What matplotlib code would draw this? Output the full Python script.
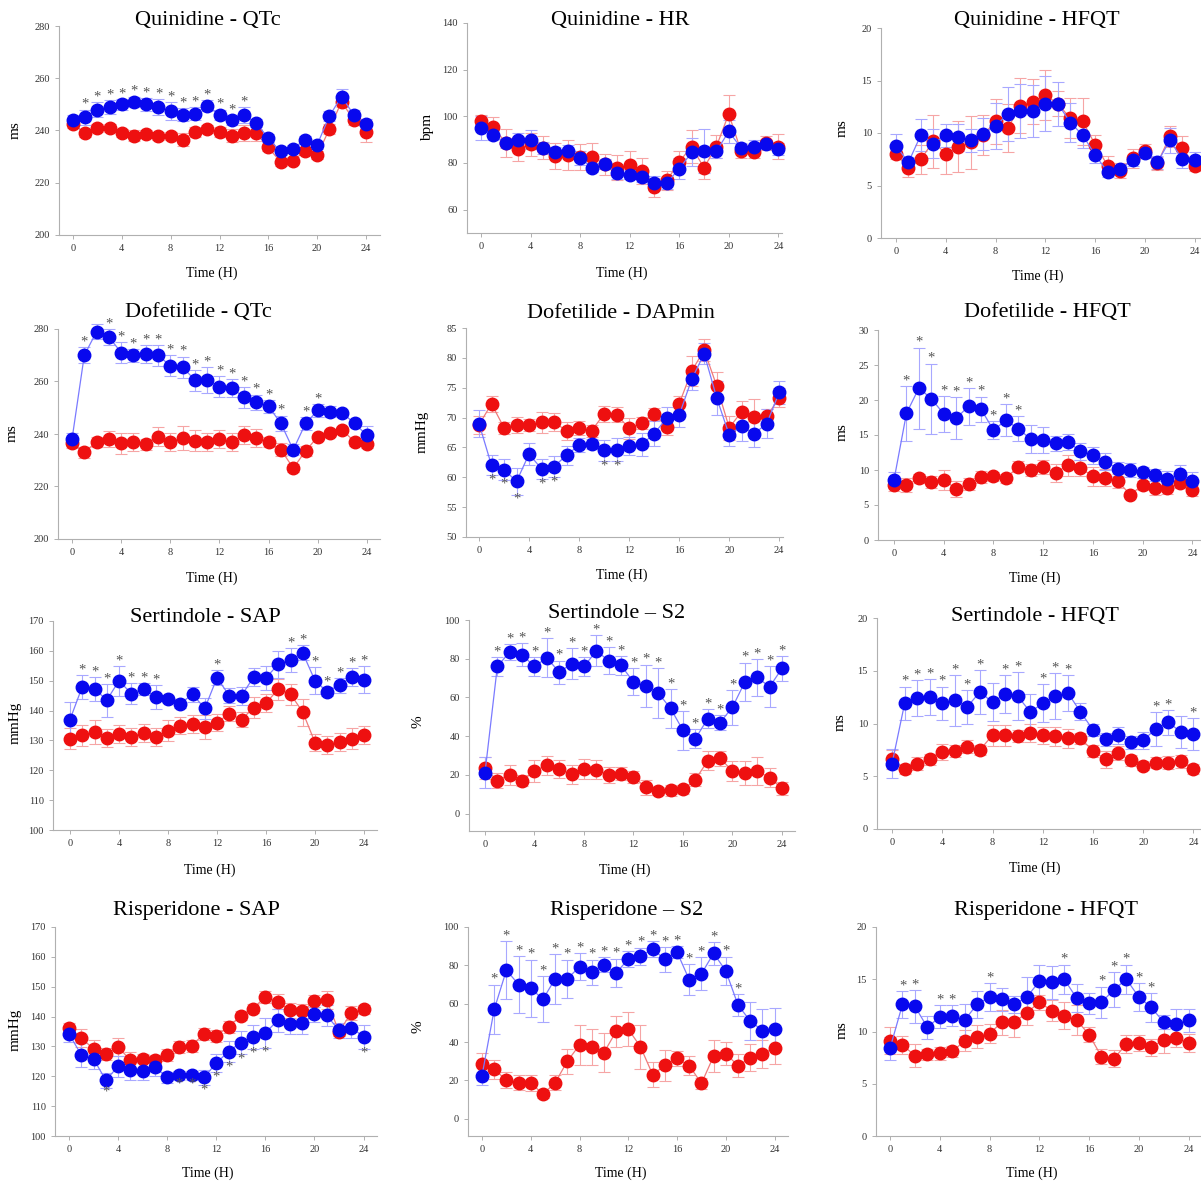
import matplotlib
matplotlib.use("Agg")
import matplotlib.pyplot as plt
import numpy as np

W, H = 1201, 1182
hours = np.arange(25)

# Quinidine - QTc
quin_qtc_drug = [244, 245, 248, 249, 250, 251, 250, 249, 247.5, 246, 246.5, 249.5, 246, 244, 246, 243, 237, 232, 233, 236.5, 234.5, 245.5, 253, 246, 242.5]
quin_qtc_drug_err = [2, 3, 3, 2.5, 2, 2, 2.5, 3, 3.5, 2.5, 2.5, 2, 2, 2, 3, 1.5, 1.5, 1.5, 1.5, 1.5, 1.5, 2, 3, 2, 2]
quin_qtc_veh = [242.5, 239, 241, 241, 239, 238, 238.5, 238, 238, 236.5, 239.5, 240.5, 239.5, 238, 239, 239, 233.5, 228, 228.5, 232, 230.5, 240.5, 251, 244, 239.5]
quin_qtc_veh_err = [1.5, 1.5, 1.5, 1.5, 1.5, 2, 1.5, 1.5, 1.5, 2.5, 2, 1.5, 2, 2.5, 3, 3, 1.5, 1.5, 1.5, 1.5, 1.5, 2, 2, 2, 4]
quin_qtc_sig = [1, 2, 3, 4, 5, 6, 7, 8, 9, 10, 11, 12, 13, 14]

# Quinidine - HR
quin_hr_drug = [95, 92, 88.5, 90, 90, 86.5, 84.5, 85, 82, 78, 79.5, 75.5, 75, 74, 71.5, 71.5, 77.5, 84.5, 85, 85, 93.5, 86.5, 87, 88, 86]
quin_hr_drug_err = [5, 2, 2, 3, 4, 2.5, 2.5, 2.5, 3, 2, 2, 2.5, 2, 2, 3, 2.5, 4.5, 6, 9.5, 3, 5, 2, 3, 2, 2.5]
quin_hr_veh = [98, 95.5, 88.5, 86, 88, 86.5, 83, 83.5, 82.5, 82.5, 79.5, 78, 79, 76.5, 69.5, 72.5, 80.5, 87, 78, 87, 101, 85, 84.5, 88.5, 87]
quin_hr_veh_err = [2.5, 4, 6, 5, 5, 5, 5.5, 6.5, 5.5, 6, 4.5, 5.5, 6, 5.5, 4, 4, 4.5, 7, 5, 5, 8, 3, 2.5, 3, 5.5]
quin_hr_sig = []

# Quinidine - HFQT
quin_hfqt_drug = [8.8, 7.2, 9.8, 9.0, 9.8, 9.6, 9.3, 9.9, 10.7, 11.8, 12.1, 12.1, 12.8, 12.8, 11.0, 9.8, 7.9, 6.3, 6.6, 7.4, 8.1, 7.2, 9.3, 7.5, 7.4]
quin_hfqt_drug_err = [1.1, 0.5, 1.5, 1.4, 1.1, 1.3, 1.1, 1.5, 2.2, 2.6, 2.6, 2.5, 2.6, 2.1, 1.9, 1.2, 0.8, 0.5, 0.4, 0.5, 0.5, 0.6, 1.2, 0.8, 0.8]
quin_hfqt_veh = [8.0, 6.7, 7.5, 9.2, 8.0, 8.7, 9.1, 9.8, 11.1, 10.5, 12.6, 13.0, 13.6, 12.8, 11.4, 11.1, 8.9, 6.9, 6.4, 7.6, 8.3, 7.1, 9.7, 8.6, 6.9]
quin_hfqt_veh_err = [0.5, 0.9, 1.4, 2.5, 1.9, 2.4, 2.5, 1.9, 2.1, 2.3, 2.6, 2.1, 2.4, 1.2, 1.9, 2.2, 0.9, 0.9, 0.7, 0.9, 0.7, 0.6, 1.0, 1.1, 0.5]
quin_hfqt_sig = []

# Dofetilide - QTc
dof_qtc_drug = [238, 270, 279, 277, 271, 270, 270.5, 270, 266, 265.5, 260.5, 260.5, 258, 257.5, 254, 252, 250.5, 244, 234, 244, 249, 248.5, 248, 244, 239.5]
dof_qtc_drug_err = [2.5, 3, 3, 3, 4, 2.5, 3.5, 4, 4, 4, 4, 5, 4, 3.5, 4, 3, 2.5, 3, 2, 2.5, 2.5, 2, 1, 1, 3.5]
dof_qtc_veh = [236.5, 233, 237, 238, 236.5, 237, 236, 239, 237, 238.5, 237.5, 237, 238, 237, 239.5, 238.5, 237, 234, 227, 233.5, 239, 240.5, 241.5, 237, 236]
dof_qtc_veh_err = [2, 2, 2, 3, 4, 3.5, 2, 3.5, 3.5, 4.5, 4, 3.5, 3.5, 3.5, 3.5, 3.5, 2, 2.5, 1.5, 2, 1, 1, 1, 1.5, 1.5]
dof_qtc_sig = [1, 2, 3, 4, 5, 6, 7, 8, 9, 10, 11, 12, 13, 14, 15, 16, 17, 19, 20]

# Dofetilide - DAPmin
dof_dap_drug = [69, 62, 61.3, 59.3, 63.9, 61.4, 61.8, 63.7, 65.4, 65.6, 64.5, 64.6, 65.3, 65.5, 67.3, 69.9, 70.4, 76.4, 80.7, 73.3, 67.1, 68.6, 67.3, 69, 74.2]
dof_dap_drug_err = [2.2, 1.7, 1.7, 2.2, 1.8, 1.7, 1.8, 1.6, 1.2, 0.8, 1.8, 1.9, 1.5, 2, 2.1, 1.9, 1.9, 1.7, 1.8, 2.8, 1.8, 2.6, 2.2, 2.5, 1.9]
dof_dap_veh = [68.8, 72.3, 68.3, 68.8, 68.7, 69.2, 69.2, 67.8, 68.2, 67.8, 70.6, 70.5, 68.2, 69.1, 70.6, 68.5, 72.3, 77.8, 81.3, 75.3, 68.3, 71, 70.1, 70.2, 73.3]
dof_dap_veh_err = [1.5, 1.3, 1.0, 1.3, 1.0, 1.8, 1.5, 1.5, 1.2, 1.0, 1.4, 1.2, 1.8, 1.0, 1.0, 1.5, 1.3, 2.5, 1.8, 2.3, 2.0, 1.8, 3.0, 1.2, 1.6]
dof_dap_sig = [1, 2, 3, 5, 6, 10, 11]

# Dofetilide - HFQT
dof_hfqt_drug = [8.6, 18.1, 21.7, 20.2, 18.0, 17.4, 19.1, 18.7, 15.7, 17.1, 15.9, 14.4, 14.3, 13.8, 14.0, 12.7, 12.1, 11.2, 10.2, 10.0, 9.7, 9.3, 8.7, 9.4, 8.5]
dof_hfqt_drug_err = [1.1, 3.9, 5.8, 5.0, 2.6, 3.0, 2.6, 1.8, 1.3, 2.3, 1.8, 2.0, 1.9, 1.1, 1.1, 1.2, 1.2, 1.2, 1.0, 1.0, 0.8, 0.8, 1.1, 1.3, 1.2]
dof_hfqt_veh = [7.9, 7.8, 8.8, 8.3, 8.6, 7.3, 8.0, 9.0, 9.1, 8.8, 10.5, 10.0, 10.4, 9.6, 10.7, 10.3, 9.1, 8.9, 8.4, 6.5, 7.8, 7.4, 7.4, 8.1, 7.1]
dof_hfqt_veh_err = [0.9, 1.0, 0.7, 0.9, 1.4, 1.2, 0.8, 0.8, 0.6, 0.6, 0.8, 0.9, 1.0, 1.3, 1.5, 1.2, 1.4, 1.2, 1.0, 0.4, 0.7, 1.0, 0.8, 0.7, 0.8]
dof_hfqt_sig = [1, 2, 3, 4, 5, 6, 7, 8, 9, 10]

# Sertindole - SAP
ser_sap_drug = [137, 148, 147.3, 143.5, 150, 145.7, 147.3, 144.5, 144, 142.3, 145.5, 140.7, 151, 145, 145, 151.3, 151, 155.5, 157, 159.3, 150, 146.3, 148.5, 151.3, 150.3]
ser_sap_drug_err = [6, 4, 4, 5.5, 5, 3.5, 2, 4, 1, 1.5, 2.5, 3.5, 2.5, 2.5, 3, 3, 4, 4.5, 4, 2.5, 4.5, 1.5, 2.5, 3, 4.5]
ser_sap_veh = [130.5, 131.8, 132.7, 130.7, 132.3, 131.3, 132.5, 131, 133.2, 135, 135.5, 134.5, 136, 139, 137, 141, 142.5, 147.2, 145.5, 139.5, 129.3, 128.6, 129.4, 130.6, 131.7]
ser_sap_veh_err = [3.5, 3.5, 4, 3, 3, 3, 3, 3, 3.5, 3, 3, 4, 3, 2.5, 2.5, 3.5, 3, 3.5, 3.5, 4.5, 3, 3, 3, 3.5, 3]
ser_sap_sig = [1, 2, 3, 4, 5, 6, 7, 12, 18, 19, 20, 21, 22, 23, 24]

# Sertindole - S2
ser_s2_drug = [21, 76, 83.5, 82, 76, 80.5, 73, 77.5, 76, 84, 79, 76.5, 68, 66, 62.3, 54.3, 43, 38.7, 49, 47, 55, 68, 70.3, 65.5, 75]
ser_s2_drug_err = [8, 5, 4, 6, 5, 10, 6, 8, 5, 8, 7, 5, 7, 11, 13, 10, 10, 5, 5, 4, 9, 10, 9.5, 10.5, 6.5]
ser_s2_veh = [23.5, 17, 20, 17, 22, 25, 23, 20.3, 23, 22.7, 20, 20.7, 19, 13.5, 11.5, 12, 12.5, 17.5, 27.3, 28.5, 22, 21, 22, 18.5, 13]
ser_s2_veh_err = [5.5, 4, 5, 3, 5.5, 5, 4.5, 5, 5, 5, 4, 3.5, 3, 4, 2, 3, 2.5, 3.5, 5, 4, 5, 6, 7, 5, 3.5]
ser_s2_sig = list(range(1, 25))

# Sertindole - HFQT
ser_hfqt_drug = [6.2, 11.9, 12.4, 12.5, 11.9, 12.2, 11.6, 13.0, 12.0, 12.8, 12.6, 11.1, 11.9, 12.6, 12.9, 11.1, 9.4, 8.5, 8.9, 8.2, 8.4, 9.5, 10.1, 9.2, 9.0]
ser_hfqt_drug_err = [1.4, 1.6, 1.7, 1.7, 1.6, 2.4, 1.6, 2.1, 1.8, 1.8, 2.3, 1.7, 1.8, 2.2, 1.7, 0.8, 0.6, 0.6, 0.8, 0.6, 0.8, 1.6, 1.2, 1.5, 1.5]
ser_hfqt_veh = [6.6, 5.7, 6.2, 6.6, 7.3, 7.4, 7.8, 7.5, 8.9, 8.9, 8.8, 9.1, 8.9, 8.8, 8.6, 8.6, 7.4, 6.6, 7.2, 6.5, 6.0, 6.3, 6.3, 6.4, 5.7]
ser_hfqt_veh_err = [0.9, 0.5, 0.6, 0.5, 0.8, 0.6, 0.6, 0.5, 1.0, 1.0, 0.6, 0.9, 0.8, 0.9, 0.9, 0.5, 0.6, 0.8, 0.7, 0.5, 0.4, 0.5, 0.6, 0.6, 0.5]
ser_hfqt_sig = [1, 2, 3, 4, 5, 6, 7, 9, 10, 12, 13, 14, 21, 22, 24]

# Risperidone - SAP
ris_sap_drug = [134.2, 127.2, 125.8, 118.7, 123.3, 122.2, 121.7, 123.1, 119.6, 120.3, 120.3, 119.6, 124.4, 128.3, 131.3, 133.3, 134.5, 138.7, 137.5, 137.8, 140.8, 140.4, 135.4, 136.3, 133.3]
ris_sap_drug_err = [2.7, 4, 3.5, 2.5, 3.5, 3.5, 3, 3, 2, 1.5, 1.5, 2.5, 3, 3.5, 4, 4, 5, 4, 3.5, 3.5, 2.5, 3.5, 2.5, 3.5, 4]
ris_sap_veh = [136.3, 132.8, 129.2, 127.6, 129.7, 125.5, 125.8, 125.5, 127.1, 129.9, 130.3, 134.2, 133.6, 136.6, 140.2, 142.7, 146.6, 145, 142.1, 141.8, 145.1, 145.6, 134.9, 141.2, 142.5]
ris_sap_veh_err = [1.5, 3, 3, 2, 3, 2.5, 1.5, 1.5, 2, 2, 2, 2, 2, 2, 1.5, 1.5, 2, 2.5, 2.5, 2.5, 2, 3, 1.5, 2.5, 1.5]
ris_sap_sig = [3, 9, 10, 11, 12, 13, 14, 15, 16, 24]

# Risperidone - S2
ris_s2_drug = [22.5, 57, 77.5, 70, 68, 62.3, 73, 73, 79.3, 76.5, 80.3, 76, 83.3, 84.8, 88.5, 83.1, 86.9, 72.5, 75.6, 86.3, 77.1, 59.3, 51, 46, 46.8]
ris_s2_drug_err = [5, 13, 15, 15, 15, 12, 13, 10, 7, 6.5, 4, 7.5, 4, 4.5, 4, 6.5, 3, 8, 8.5, 6, 7.5, 5.5, 10, 11, 11]
ris_s2_veh = [28.3, 25.7, 20.2, 18.8, 18.7, 12.8, 18.8, 30, 38.5, 37.5, 34.5, 45.5, 46.7, 37.5, 23, 27.8, 31.5, 27.7, 18.4, 32.7, 34, 27.6, 31.8, 33.8, 37]
ris_s2_veh_err = [6, 5, 4, 4, 4, 2, 4, 6.5, 10.5, 9.5, 10, 8, 9, 11.5, 6.5, 8, 4, 5, 3, 8.5, 6, 6, 7, 7.5, 8.5]
ris_s2_sig = list(range(1, 22))

# Risperidone - HFQT
ris_hfqt_drug = [8.4, 12.6, 12.4, 10.4, 11.4, 11.5, 11.1, 12.6, 13.3, 13.1, 12.6, 13.3, 14.8, 14.7, 15.0, 13.2, 12.7, 12.8, 14.0, 15.0, 13.3, 12.3, 10.9, 10.7, 11.1]
ris_hfqt_drug_err = [1.1, 1.3, 1.6, 1.1, 1.1, 1.0, 1.5, 1.3, 1.3, 1.1, 0.8, 1.9, 1.6, 1.6, 1.4, 1.3, 1.0, 1.5, 1.7, 1.4, 1.3, 1.4, 0.7, 1.5, 1.1]
ris_hfqt_veh = [9.1, 8.7, 7.7, 7.8, 7.9, 8.1, 9.1, 9.5, 9.8, 10.9, 10.9, 11.8, 12.8, 12.0, 11.5, 11.1, 9.7, 7.6, 7.4, 8.8, 8.9, 8.5, 9.2, 9.4, 8.9]
ris_hfqt_veh_err = [1.3, 0.9, 1.1, 0.5, 0.6, 0.5, 1.0, 1.1, 0.9, 1.2, 1.4, 1.2, 0.7, 1.0, 1.3, 1.4, 0.7, 0.7, 0.8, 0.9, 0.8, 0.8, 1.3, 0.9, 0.9]
ris_hfqt_sig = [1, 2, 4, 5, 8, 14, 17, 18, 19, 20, 21]

plt.rcParams['font.family'] = ['Liberation Serif', 'DejaVu Serif']

fig = plt.figure(figsize=(W / 100, H / 100), dpi=100)


def panel(box, xlim, ylim, yticks, title, title_xy, ylabel, ylabel_xy, xlabel_xy,
          drug, drug_err, veh, veh_err, sig, below=False):
    x0, y0, x1, y1 = box
    ax = fig.add_axes([x0 / W, 1 - y1 / H, (x1 - x0) / W, (y1 - y0) / H])
    ax.patch.set_alpha(0)
    # vehicle (red) first, drug (blue) on top
    ax.errorbar(hours, veh, yerr=veh_err, fmt='-o', color='#f07a7a', lw=0.9,
                ms=9, mfc='#ee1010', mec='#ee1010', ecolor='#f6a5a5',
                elinewidth=0.8, capsize=4, capthick=0.8, clip_on=False)
    ax.errorbar(hours, drug, yerr=drug_err, fmt='-o', color='#7a7aff', lw=0.9,
                ms=9, mfc='#0808ee', mec='#0808ee', ecolor='#a8a8ff',
                elinewidth=0.8, capsize=4, capthick=0.8, clip_on=False)
    for i in sig:
        if below:
            ax.annotate('*', (hours[i], drug[i] - drug_err[i]), xytext=(0, -8),
                        textcoords='offset points', ha='center', va='bottom',
                        fontsize=10.5, color='#555555')
        else:
            ax.annotate('*', (hours[i], drug[i] + drug_err[i]), xytext=(0, -1),
                        textcoords='offset points', ha='center', va='bottom',
                        fontsize=10.5, color='#555555')
    ax.set_xlim(*xlim)
    ax.set_ylim(*ylim)
    ax.set_xticks(range(0, 25, 4))
    ax.set_yticks(yticks)
    for s in ['top', 'right']:
        ax.spines[s].set_visible(False)
    for s in ['left', 'bottom']:
        ax.spines[s].set_color('#b0b0b0')
        ax.spines[s].set_linewidth(0.8)
    ax.tick_params(colors='#b0b0b0', labelcolor='#333333', labelsize=7.5,
                   length=3, width=0.7)
    fig.text(title_xy[0] / W, 1 - title_xy[1] / H, title, ha='center',
             va='center', fontsize=16)
    fig.text(ylabel_xy[0] / W, 1 - ylabel_xy[1] / H, ylabel, ha='center',
             va='center', rotation=90, fontsize=11)
    fig.text(xlabel_xy[0] / W, 1 - xlabel_xy[1] / H, 'Time (H)', ha='center',
             va='center', fontsize=10)
    return ax


panel((59, 26, 380, 235), (-1.15, 25.15), (200, 280), range(200, 281, 20),
      'Quinidine - QTc', (208, 20), 'ms', (15, 130), (212, 273),
      quin_qtc_drug, quin_qtc_drug_err, quin_qtc_veh, quin_qtc_veh_err, quin_qtc_sig)
panel((467, 23, 782, 233), (-1.13, 24.3), (50, 140), range(60, 141, 20),
      'Quinidine - HR', (620, 20), 'bpm', (428, 127), (622, 273),
      quin_hr_drug, quin_hr_drug_err, quin_hr_veh, quin_hr_veh_err, quin_hr_sig)
panel((881, 28, 1201, 238), (-1.2, 24.5), (0, 20), range(0, 21, 5),
      'Quinidine - HFQT', (1037, 20), 'ms', (842, 128), (1038, 276),
      quin_hfqt_drug, quin_hfqt_drug_err, quin_hfqt_veh, quin_hfqt_veh_err, quin_hfqt_sig)

panel((58, 329, 380, 539), (-1.14, 25.06), (200, 280), range(200, 281, 20),
      'Dofetilide - QTc', (198, 313), 'ms', (12, 433), (212, 578),
      dof_qtc_drug, dof_qtc_drug_err, dof_qtc_veh, dof_qtc_veh_err, dof_qtc_sig)
panel((466, 328, 783, 537), (-1.04, 24.3), (50, 85), range(50, 86, 5),
      'Dofetilide - DAPmin', (621, 313), 'mmHg', (422, 432), (622, 575),
      dof_dap_drug, dof_dap_drug_err, dof_dap_veh, dof_dap_veh_err, dof_dap_sig, below=True)
panel((878, 330, 1201, 540), (-1.29, 24.7), (0, 30), range(0, 31, 5),
      'Dofetilide - HFQT', (1047, 313), 'ms', (842, 432), (1035, 578),
      dof_hfqt_drug, dof_hfqt_drug_err, dof_hfqt_veh, dof_hfqt_veh_err, dof_hfqt_sig)

panel((53, 621, 377, 830), (-1.39, 25.06), (100, 170), range(100, 171, 10),
      'Sertindole - SAP', (205, 617), 'mmHg', (15, 723), (210, 870),
      ser_sap_drug, ser_sap_drug_err, ser_sap_veh, ser_sap_veh_err, ser_sap_sig)
panel((469, 620, 795, 831), (-1.29, 25.05), (-9, 100), range(0, 101, 20),
      'Sertindole \u2013 S2', (617, 613), '%', (418, 722), (625, 870),
      ser_s2_drug, ser_s2_drug_err, ser_s2_veh, ser_s2_veh_err, ser_s2_sig)
panel((877, 618, 1201, 829), (-1.2, 24.6), (0, 20), range(0, 21, 5),
      'Sertindole - HFQT', (1035, 617), 'ms', (840, 722), (1035, 868),
      ser_hfqt_drug, ser_hfqt_drug_err, ser_hfqt_veh, ser_hfqt_veh_err, ser_hfqt_sig)

panel((55, 927, 377, 1136), (-1.14, 25.1), (100, 170), range(100, 171, 10),
      'Risperidone - SAP', (196, 910), 'mmHg', (15, 1030), (208, 1173),
      ris_sap_drug, ris_sap_drug_err, ris_sap_veh, ris_sap_veh_err, ris_sap_sig, below=True)
panel((468, 927, 788, 1136), (-1.15, 25.1), (-9, 100), range(0, 101, 20),
      'Risperidone \u2013 S2', (627, 910), '%', (418, 1027), (621, 1173),
      ris_s2_drug, ris_s2_drug_err, ris_s2_veh, ris_s2_veh_err, ris_s2_sig)
panel((876, 927, 1201, 1136), (-1.13, 25.0), (0, 20), range(0, 21, 5),
      'Risperidone - HFQT', (1046, 910), 'ms', (842, 1030), (1032, 1173),
      ris_hfqt_drug, ris_hfqt_drug_err, ris_hfqt_veh, ris_hfqt_veh_err, ris_hfqt_sig)

fig.savefig('out.png', dpi=100, facecolor='white')
